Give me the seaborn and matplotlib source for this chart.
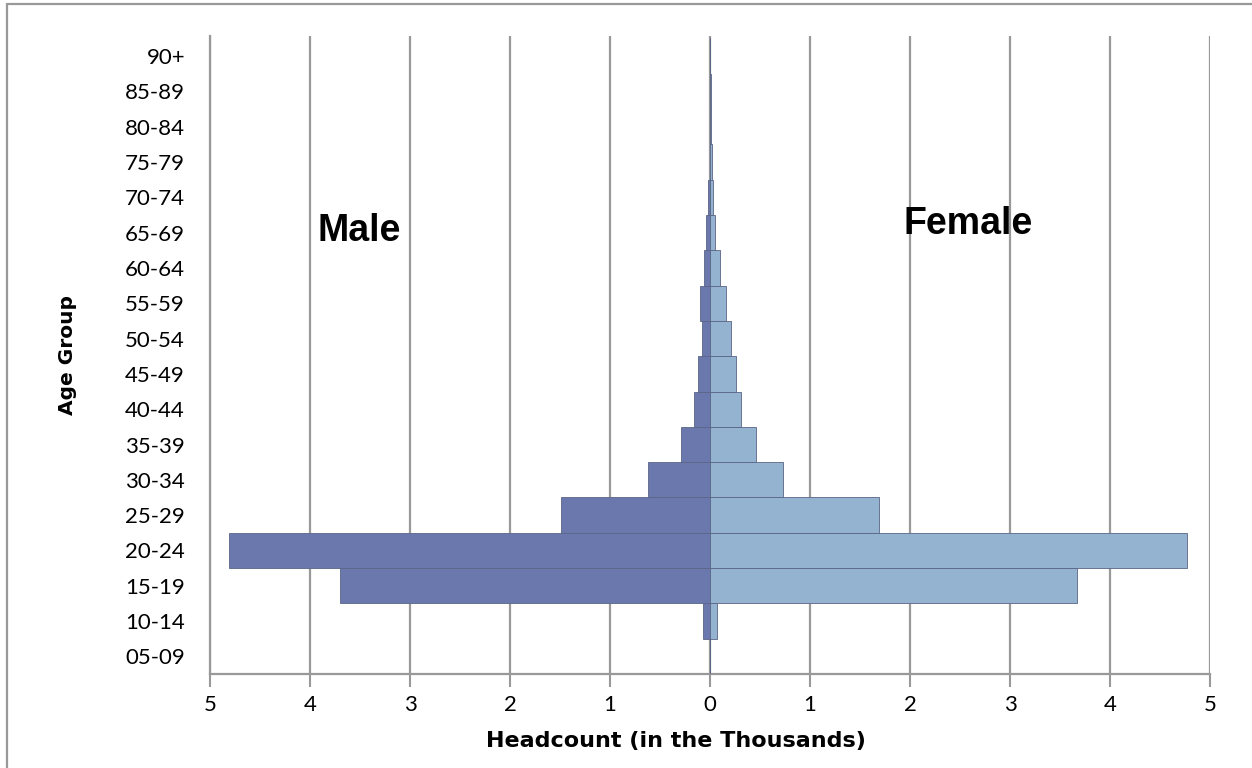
import pandas as pd
import matplotlib.pyplot as plt
import seaborn as sns

# Age groups, top to bottom as in the chart
age_groups = ['90+', '85-89', '80-84', '75-79', '70-74', '65-69', '60-64', '55-59',
              '50-54', '45-49', '40-44', '35-39', '30-34', '25-29', '20-24', '15-19',
              '10-14', '05-09']

# Headcount in thousands
male = [0.0, 0.0, 0.0, 0.005, 0.02, 0.04, 0.06, 0.10,
        0.08, 0.12, 0.16, 0.29, 0.62, 1.49, 4.81, 3.70,
        0.07, 0.0]
female = [0.0, 0.005, 0.005, 0.02, 0.03, 0.05, 0.10, 0.16,
          0.21, 0.26, 0.31, 0.46, 0.73, 1.69, 4.77, 3.67,
          0.07, 0.0]

tick_values = [-5, -4, -3, -2, -1, 0, 1, 2, 3, 4, 5]
tick_labels = ['5', '4', '3', '2', '1', '0', '1', '2', '3', '4', '5']

df = pd.concat([
    pd.DataFrame({'age': age_groups, 'value': [-v for v in male], 'sex': 'Male'}),
    pd.DataFrame({'age': age_groups, 'value': female, 'sex': 'Female'}),
])

sns.set_style('white')
plt.rcParams['font.family'] = ['Lato', 'DejaVu Sans']
plt.rcParams['text.color'] = 'black'
plt.rcParams['axes.labelcolor'] = 'black'
plt.rcParams['xtick.color'] = 'black'
plt.rcParams['ytick.color'] = 'black'

fig = plt.figure(figsize=(12.52, 7.68), dpi=100)
ax = fig.add_axes([210 / 1252, 1 - 674 / 768, 1000 / 1252, 638 / 768])

sns.barplot(data=df, x='value', y='age', hue='sex', order=age_groups,
            hue_order=['Male', 'Female'], palette={'Male': '#6a78ad', 'Female': '#93b3d0'},
            saturation=1, dodge=False, width=1.0, orient='h', ax=ax, legend=False,
            edgecolor='#5a6585', linewidth=0.6, zorder=3)

ax.set_xlim(-5, 5)
ax.set_ylim(17.5, -0.57)
ax.set_xticks(tick_values)
ax.set_xticklabels(tick_labels, fontsize=16)
ax.tick_params(axis='y', labelsize=16, length=0, pad=18)
ax.tick_params(axis='x', length=9, width=1.5, color='#999999', direction='out', pad=6,
               bottom=True)
for x in tick_values:
    ax.axvline(x, color='#999999', linewidth=1.6, zorder=1)

for side in ['top', 'right']:
    ax.spines[side].set_visible(False)
for side in ['left', 'bottom']:
    ax.spines[side].set_color('#999999')
    ax.spines[side].set_linewidth(1.6)

ax.set_xlabel('Headcount (in the Thousands)', fontsize=16, fontweight='bold',
              family='DejaVu Sans')
ax.xaxis.set_label_coords(0.466, -0.09)
ax.set_ylabel('Age Group', fontsize=14.5, fontweight='bold', family='DejaVu Sans')
ax.yaxis.set_label_coords(-0.133, 0.5)

ax.text(-3.92, 5.25, 'Male', fontsize=27, fontweight='bold', family='Liberation Sans',
        va='baseline', ha='left')
ax.text(1.94, 5.05, 'Female', fontsize=27, fontweight='bold', family='Liberation Sans',
        va='baseline', ha='left')

# outer frame (left and top edges visible)
fig.add_artist(plt.Line2D([7 / 1252, 7 / 1252], [0, 1 - 4 / 768], color='#999999', linewidth=1.6))
fig.add_artist(plt.Line2D([7 / 1252, 1], [1 - 4 / 768, 1 - 4 / 768], color='#999999', linewidth=1.6))

fig.savefig('out.png', dpi=100)
